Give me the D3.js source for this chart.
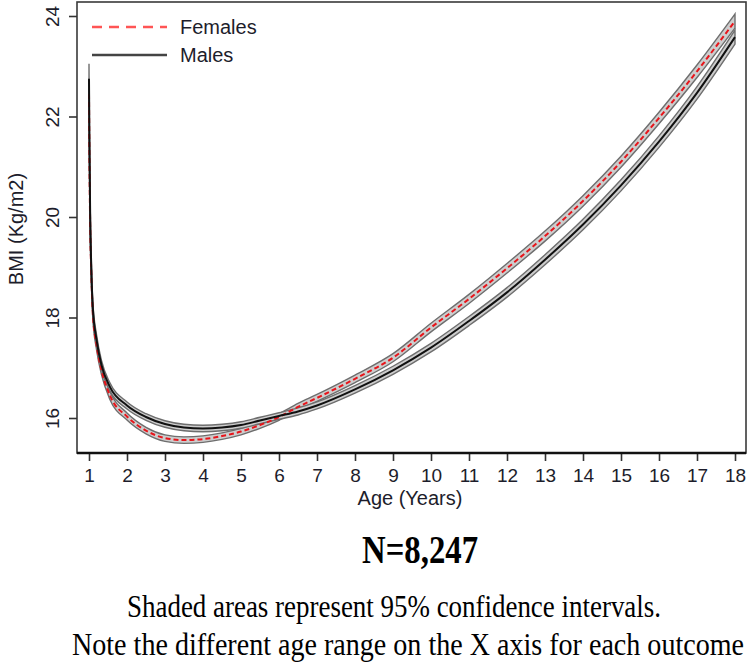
<!DOCTYPE html>
<html>
<head>
<meta charset="utf-8">
<script src="https://cdn.jsdelivr.net/npm/d3@7"></script>
<style>
  html, body { margin: 0; padding: 0; background: #fff; }
  svg { display: block; }
</style>
</head>
<body>
<svg id="chart" width="750" height="666"></svg>
<script>
// ---- data ----
const ages = [1.0, 1.01, 1.03, 1.06, 1.1, 1.2, 1.33, 1.55, 2.0, 2.5, 3.0, 3.5, 4.0, 4.5, 5.0, 5.5, 6.0, 6.5, 7, 8, 9, 10, 11, 12, 13, 14, 15, 16, 17, 18];
const femaleBMI = [22.45, 21.3, 19.9, 18.9, 18.1, 17.45, 16.95, 16.45, 16.03, 15.75, 15.6, 15.56, 15.58, 15.64, 15.73, 15.86, 16.02, 16.22, 16.4, 16.78, 17.2, 17.8, 18.37, 18.98, 19.62, 20.32, 21.1, 21.97, 22.9, 23.9];
const maleBMI   = [22.75, 21.6, 20.1, 19.0, 18.2, 17.55, 17.05, 16.62, 16.25, 16.02, 15.88, 15.81, 15.79, 15.81, 15.86, 15.95, 16.04, 16.13, 16.25, 16.57, 16.95, 17.4, 17.93, 18.5, 19.15, 19.85, 20.63, 21.5, 22.47, 23.58];
const femaleCI  = [0.3, 0.26, 0.2, 0.15, 0.12, 0.1, 0.09, 0.08, 0.07, 0.065, 0.065, 0.065, 0.065, 0.065, 0.065, 0.065, 0.065, 0.07, 0.07, 0.075, 0.08, 0.085, 0.09, 0.095, 0.1, 0.105, 0.11, 0.115, 0.125, 0.14];
const maleCI    = [0.3, 0.26, 0.2, 0.15, 0.12, 0.1, 0.09, 0.08, 0.07, 0.065, 0.065, 0.065, 0.065, 0.065, 0.065, 0.065, 0.065, 0.07, 0.07, 0.075, 0.08, 0.085, 0.09, 0.095, 0.1, 0.105, 0.11, 0.115, 0.125, 0.14];
const xTicks = [1, 2, 3, 4, 5, 6, 7, 8, 9, 10, 11, 12, 13, 14, 15, 16, 17, 18];
const yTicks = [16, 18, 20, 22, 24];
const legendLabels = ["Females", "Males"];
const xTitle = "Age (Years)";
const yTitle = "BMI (Kg/m2)";
const sampleLabel = "N=8,247";
const notes = ["Shaded areas represent 95% confidence intervals.",
               "Note the different age range on the X axis for each outcome"];

// ---- layout ----
const svg = d3.select("#chart");
const box = { left: 77, top: 2, right: 746, bottom: 453 };
const x = d3.scaleLinear().domain([1, 18]).range([89, 735]);
const y = d3.scaleLinear().domain([16, 24]).range([418, 16]);
const sans = "'Liberation Sans', Arial, sans-serif";
const serif = "'Liberation Serif', 'Times New Roman', serif";
const textCol = "#1d1d2b";

// plot frame
svg.append("rect")
  .attr("x", box.left).attr("y", box.top)
  .attr("width", box.right - box.left).attr("height", box.bottom - box.top)
  .attr("fill", "none").attr("stroke", "#3a3a3a").attr("stroke-width", 1.6);

// bottom axis
const xAxis = d3.axisBottom(x).tickValues(xTicks).tickSize(8).tickPadding(8).tickFormat(d3.format("d"));
const gx = svg.append("g").attr("transform", `translate(0,${box.bottom})`).call(xAxis);
gx.select(".domain").remove();
gx.append("line").attr("x1", box.left).attr("x2", box.right).attr("y1", 0).attr("y2", 0)
  .attr("stroke", "#111").attr("stroke-width", 2.6);
gx.selectAll(".tick line").attr("stroke", "#333").attr("stroke-width", 1.6);
gx.selectAll(".tick text").attr("font-family", sans).attr("font-size", 19).attr("fill", textCol);

// left axis
const yAxis = d3.axisLeft(y).tickValues(yTicks).tickSize(8).tickPadding(0).tickFormat(d3.format("d"));
const gy = svg.append("g").attr("transform", `translate(${box.left},0)`).call(yAxis);
gy.select(".domain").remove();
gy.selectAll(".tick line").attr("stroke", "#333").attr("stroke-width", 1.6);
gy.selectAll(".tick text")
  .attr("font-family", sans).attr("font-size", 19).attr("fill", textCol)
  .attr("text-anchor", "middle").attr("dy", null).attr("x", null)
  .attr("transform", "translate(-25,0) rotate(-90)").attr("dominant-baseline", "central");

// axis titles
svg.append("text").attr("x", 410).attr("y", 498).attr("text-anchor", "middle")
  .attr("dominant-baseline", "central")
  .attr("font-family", sans).attr("font-size", 20).attr("fill", textCol).text(xTitle);
svg.append("text").attr("transform", "translate(16,229) rotate(-90)").attr("text-anchor", "middle")
  .attr("dominant-baseline", "central")
  .attr("font-family", sans).attr("font-size", 20).attr("fill", textCol).text(yTitle);

// series
const series = [
  { name: "Females", mean: femaleBMI, ci: femaleCI, color: "#e8141a", dash: "5,3" },
  { name: "Males", mean: maleBMI, ci: maleCI, color: "#111", dash: null }
];
const clipId = "plotclip";
svg.append("clipPath").attr("id", clipId).append("rect")
  .attr("x", box.left).attr("y", box.top).attr("width", box.right - box.left).attr("height", box.bottom - box.top);
const plot = svg.append("g").attr("clip-path", `url(#${clipId})`);

const area = d3.area().curve(d3.curveMonotoneX)
  .x(d => x(d.a)).y0(d => y(d.m - d.c)).y1(d => y(d.m + d.c));
const line = d3.line().curve(d3.curveMonotoneX).x(d => x(d.a)).y(d => y(d.m));

series.forEach(s => {
  const pts = ages.map((a, i) => ({ a, m: s.mean[i], c: s.ci[i] }));
  plot.append("path").datum(pts).attr("d", area)
    .attr("fill", "#cdcdcd").attr("stroke", "#6e6e6e").attr("stroke-width", 1.4);
});
series.forEach(s => {
  const pts = ages.map((a, i) => ({ a, m: s.mean[i], c: s.ci[i] }));
  plot.append("path").datum(pts).attr("d", line)
    .attr("fill", "none").attr("stroke", s.color).attr("stroke-width", 2)
    .attr("stroke-dasharray", s.dash);
});

// legend
const legend = svg.append("g");
const legendStyles = [
  { color: "#ff5555", dash: "10,7", y: 27 },
  { color: "#444", dash: null, y: 55 }
];
legendLabels.forEach((lab, i) => {
  const st = legendStyles[i];
  legend.append("line").attr("x1", 92).attr("x2", 167).attr("y1", st.y).attr("y2", st.y)
    .attr("stroke", st.color).attr("stroke-width", 2.5).attr("stroke-dasharray", st.dash);
  legend.append("text").attr("x", 180).attr("y", st.y).attr("dominant-baseline", "central")
    .attr("font-family", sans).attr("font-size", 20).attr("fill", textCol).text(lab);
});

// footer text (slightly tall, as in the reference)
function footer(txt, cx, cy, size, width, bold, sy) {
  const g = svg.append("g").attr("transform", `translate(${cx},${cy}) scale(1,${sy})`);
  g.append("text").attr("x", 0).attr("y", 0).attr("text-anchor", "middle")
    .attr("dominant-baseline", "central")
    .attr("font-family", serif).attr("font-weight", bold ? "bold" : "normal")
    .attr("font-size", size).attr("fill", "#000")
    .attr("textLength", width).attr("lengthAdjust", "spacingAndGlyphs")
    .text(txt);
}
footer(sampleLabel, 420, 550, 32, 116, true, 1.25);
footer(notes[0], 394, 606, 27, 534, false, 1.15);
footer(notes[1], 408, 644, 28, 672, false, 1.15);
</script>
</body>
</html>
